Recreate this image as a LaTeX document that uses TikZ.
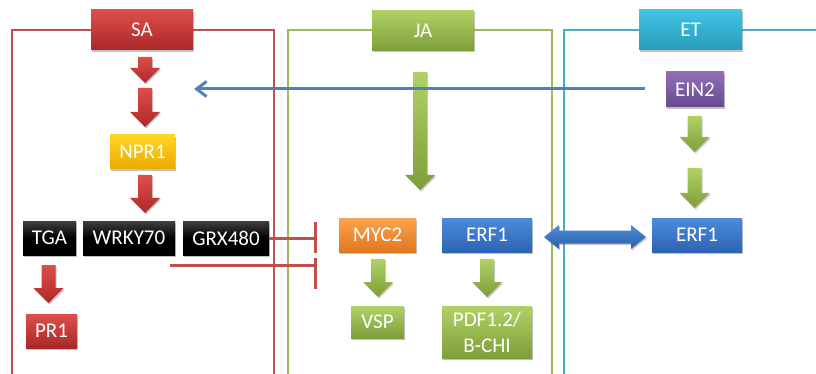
\documentclass[tikz,border=0pt]{standalone}
\usepackage{fontspec}
\setmainfont{Carlito}
\usetikzlibrary{shadows,arrows.meta}
\definecolor{framered}{HTML}{C0504D}
\definecolor{framegreen}{HTML}{9BBB59}
\definecolor{frameblue}{HTML}{4BACC6}
\definecolor{lineblue}{HTML}{4F81BD}
\tikzset{
  box/.style={rectangle, inner sep=0pt, text=white, font=\fontsize{21}{26}\selectfont,
    drop shadow={shadow xshift=1pt, shadow yshift=-2pt, opacity=0.35, fill=black!70}},
  redbox/.style={box, top color={rgb,255:red,222;green,78;blue,74}, bottom color={rgb,255:red,170;green,40;blue,40}},
  yellowbox/.style={box, top color={rgb,255:red,255;green,214;blue,40}, bottom color={rgb,255:red,235;green,170;blue,0}},
  blackbox/.style={box, top color=black!75, bottom color=black, middle color=black},
  greenbox/.style={box, top color={rgb,255:red,176;green,210;blue,100}, bottom color={rgb,255:red,126;green,158;blue,58}},
  cyanbox/.style={box, top color={rgb,255:red,64;green,196;blue,226}, bottom color={rgb,255:red,40;green,156;blue,186}},
  orangebox/.style={box, top color={rgb,255:red,252;green,162;blue,78}, bottom color={rgb,255:red,226;green,120;blue,30}},
  bluebox/.style={box, top color={rgb,255:red,76;green,138;blue,218}, bottom color={rgb,255:red,46;green,100;blue,180}},
  purplebox/.style={box, top color={rgb,255:red,144;green,110;blue,184}, bottom color={rgb,255:red,104;green,74;blue,140}},
  redarrow/.style={top color={rgb,255:red,222;green,78;blue,74}, bottom color={rgb,255:red,175;green,40;blue,40},
    drop shadow={shadow xshift=1pt, shadow yshift=-1.5pt, opacity=0.3, fill=black!70}},
  greenarrow/.style={top color={rgb,255:red,176;green,210;blue,100}, bottom color={rgb,255:red,126;green,158;blue,58},
    drop shadow={shadow xshift=1pt, shadow yshift=-1.5pt, opacity=0.3, fill=black!70}},
  bluearrow/.style={top color={rgb,255:red,80;green,140;blue,215}, bottom color={rgb,255:red,40;green,95;blue,170},
    drop shadow={shadow xshift=1pt, shadow yshift=-1.5pt, opacity=0.3, fill=black!70}},
  frame/.style={line width=2pt},
  inhib/.style={draw=framered, line width=3pt},
}
\newcommand{\blockdown}[4]{%
  \path[#1] (#2-7,#3) -- (#2+7,#3) -- (#2+7,#4-15) -- (#2+15,#4-15) -- (#2,#4)
    -- (#2-15,#4-15) -- (#2-7,#4-15) -- cycle;}
\begin{document}
\begin{tikzpicture}[x=1pt,y=-1pt]
\useasboundingbox (0,0) rectangle (816,374);
% frames
\draw[frame, framered] (12,380) -- (12,30) -- (274,30) -- (274,380);
\draw[frame, framegreen] (288,380) -- (288,30) -- (552,30) -- (552,380);
\draw[frame, frameblue] (564,380) -- (564,30) -- (820,30);
% header boxes
\node[redbox, minimum width=102pt, minimum height=40pt] (SA) at (142,30) {SA};
\node[greenbox, minimum width=102pt, minimum height=40pt] (JA) at (423,30.5) {JA};
\node[cyanbox, minimum width=103pt, minimum height=40pt] (ET) at (690.5,30) {ET};
% SA column
\blockdown{redarrow}{145}{57}{83}
\blockdown{redarrow}{145}{88}{127}
\node[yellowbox, minimum width=65pt, minimum height=34pt] (NPR1) at (142.5,152) {NPR1};
\blockdown{redarrow}{145}{175}{213}
\node[blackbox, minimum width=53pt, minimum height=34pt] (TGA) at (49.5,238) {TGA};
\node[blackbox, minimum width=92pt, minimum height=34pt] (WRKY70) at (129,238) {WRKY70};
\node[blackbox, minimum width=86pt, minimum height=34pt] (GRX480) at (226,238) {GRX480};
\blockdown{redarrow}{48.5}{265}{303}
\node[redbox, minimum width=51pt, minimum height=34pt] (PR1) at (51.5,331) {PR1};
% JA column
\blockdown{greenarrow}{420}{72}{190}
\node[orangebox, minimum width=77pt, minimum height=34pt] (MYC2) at (377.5,235) {MYC2};
\node[bluebox, minimum width=90pt, minimum height=34pt] (ERF1a) at (487,235) {ERF1};
\blockdown{greenarrow}{378}{259}{297}
\blockdown{greenarrow}{487}{259}{297}
\node[greenbox, minimum width=53pt, minimum height=32pt] (VSP) at (377.5,322) {VSP};
\node[greenbox, minimum width=90pt, minimum height=52pt, align=center] (PDF) at (487,332) {PDF1.2/\\B-CHI};
% ET column
\node[purplebox, minimum width=58pt, minimum height=35pt] (EIN2) at (695,89.5) {EIN2};
\blockdown{greenarrow}{694.5}{116}{152}
\blockdown{greenarrow}{694.5}{168}{208}
\node[bluebox, minimum width=90pt, minimum height=34pt] (ERF1b) at (697,235) {ERF1};
% double arrow between ERF1 nodes
\path[bluearrow] (544,237) -- (559,225) -- (559,230.5) -- (631,230.5) -- (631,225) -- (646,237)
  -- (631,249) -- (631,243.5) -- (559,243.5) -- (559,249) -- cycle;
% EIN2 -> SA pathway line
\coordinate (bluestart) at (645,89);
\coordinate (blueend) at (194,89);
\draw[lineblue, line width=3pt, -{Straight Barb[length=10pt,width=15pt,line width=3pt]}] (bluestart) -- (blueend);
% inhibition lines
\coordinate (bar1) at (315,238);
\coordinate (bar1a) at (315,222);
\coordinate (bar1b) at (315,253);
\coordinate (l2s) at (170,265);
\coordinate (bar2) at (315,265);
\coordinate (bar2a) at (315,258);
\coordinate (bar2b) at (315,289);
\draw[inhib] (GRX480.east) -- (bar1);
\draw[inhib] (bar1a) -- (bar1b);
\draw[inhib] (l2s) -- (bar2);
\draw[inhib] (bar2a) -- (bar2b);
\end{tikzpicture}
\end{document}
